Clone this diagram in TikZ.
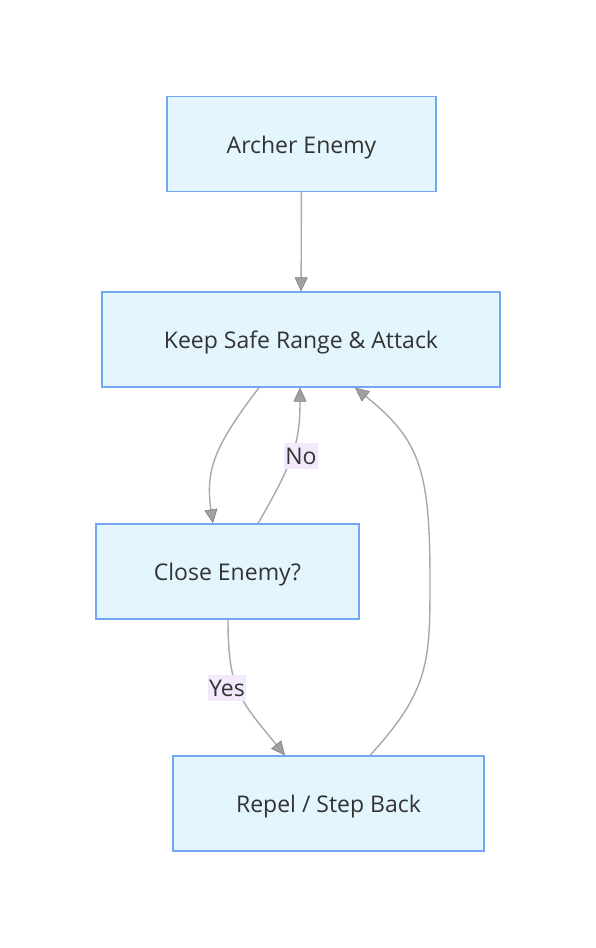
\documentclass[tikz,border=0pt]{standalone}
\usepackage{fontspec}
\setmainfont{Open Sans}
\usepackage{xcolor}
\usetikzlibrary{arrows.meta,positioning,calc}

\definecolor{boxfill}{HTML}{E3F5FD}
\definecolor{boxline}{HTML}{73A6F5}
\definecolor{edgegray}{HTML}{A8A8A8}
\definecolor{tipgray}{HTML}{A0A0A0}
\definecolor{labelbg}{HTML}{F3E9FD}
\definecolor{textgray}{HTML}{333333}

\tikzset{
	statebox/.style={draw=boxline, line width=1.3pt, fill=boxfill, text=textgray,
		minimum height=95pt, inner sep=0pt, text height=18pt, text depth=0pt,
		font=\fontsize{23pt}{27pt}\selectfont},
	flow/.style={draw=edgegray, line width=1.4pt,
		-{Triangle[length=14pt, width=13pt, fill=tipgray, color=tipgray!80!black, line width=0.6pt]}},
	edgelabel/.style={fill=labelbg, text=textgray, inner xsep=1pt, inner ysep=5pt,
		font=\fontsize{23pt}{27pt}\selectfont}
}

\begin{document}
\begin{tikzpicture}[x=1pt, y=-1pt]
		\useasboundingbox (0,0) rectangle (596,948);

		\node[statebox, minimum width=269pt] (archer) at (301.5,144) {Archer Enemy};
		\node[statebox, minimum width=398pt] (keep) at (301,339.5) {Keep Safe Range \& Attack};
		\node[statebox, minimum width=263pt] (close) at (227.5,571.5) {Close Enemy?};
		\node[statebox, minimum width=311pt] (repel) at (328.5,803.5) {Repel / Step Back};

		\draw[flow] (archer) -- (keep);
		\draw[flow] (keep.south -| 259,0) .. controls (215,445) and (205,470) .. (close.north -| 213,0);
		\draw[flow] (close.north -| 258,0) .. controls (295,460) and (300,440) .. (keep.south -| 300,0);
		\draw[flow] (close.south -| 228,0) .. controls (228,690) and (240,700) .. (repel.north -| 285,0);
		\draw[flow] (repel.north -| 370,0) .. controls (430,690) and (430,660) .. (430,580)
			.. controls (430,470) and (420,440) .. (keep.south -| 355,0);

		\node[edgelabel] (nolabel) at (301,456) {No};
		\node[edgelabel] (yeslabel) at (227,688) {Yes};
	\end{tikzpicture}
\end{document}
